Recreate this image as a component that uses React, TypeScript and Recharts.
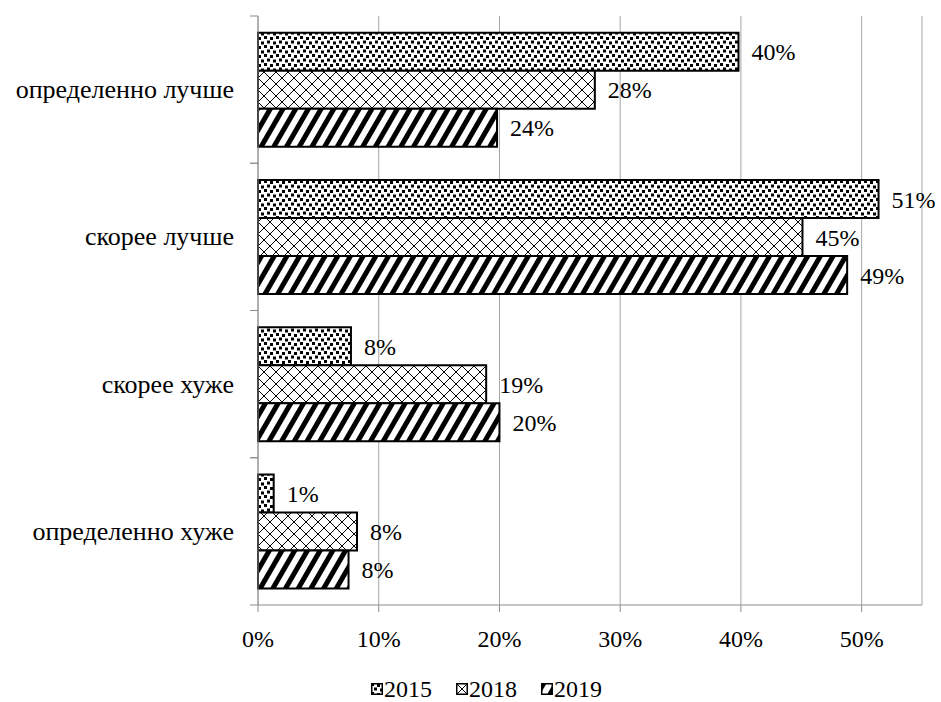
import React from 'react'
import { BarChart, Bar, XAxis, YAxis, CartesianGrid, LabelList } from 'recharts'

const categories = ['определенно лучше', 'скорее лучше', 'скорее хуже', 'определенно хуже']
const values2015 = [39.8, 51.4, 7.7, 1.3]
const values2018 = [27.9, 45.1, 18.9, 8.2]
const values2019 = [19.8, 48.8, 20.0, 7.5]
const labels2015 = ['40%', '51%', '8%', '1%']
const labels2018 = ['28%', '45%', '19%', '8%']
const labels2019 = ['24%', '49%', '20%', '8%']
const xTicks = [0, 10, 20, 30, 40, 50]
const years = ['2015', '2018', '2019']

const W = 941
const H = 702
const PLOT_TOP = 16
const PLOT_BOTTOM = 605
const Y_AXIS_W = 258
const FONT = 'Liberation Serif, Tinos, serif'
const axisColor = '#8c8c8c'
const gridColor = '#a6a6a6'

const chartData = categories.map((name, i) => ({
  name,
  v2015: values2015[i],
  v2018: values2018[i],
  v2019: values2019[i],
  l2015: labels2015[i],
  l2018: labels2018[i],
  l2019: labels2019[i],
}))

const fills = ['url(#pat-dots)', 'url(#pat-cross)', 'url(#pat-stripes)']

function Patterns() {
  return (
    <svg width={0} height={0} style={{ position: 'absolute' }}>
      <defs>
        <pattern id="pat-dots" patternUnits="userSpaceOnUse" width={12} height={9}>
          <rect width={12} height={9} fill="#fff" />
          <rect x={0} y={0} width={3} height={3} fill="#000" />
          <rect x={6} y={1} width={3} height={3} fill="#000" />
          <rect x={3} y={4.5} width={3} height={3} fill="#000" />
          <rect x={9} y={5.5} width={3} height={3} fill="#000" />
        </pattern>
        <pattern id="pat-cross" patternUnits="userSpaceOnUse" width={12} height={12}>
          <rect width={12} height={12} fill="#fff" />
          <path d="M0,0 L12,12 M12,0 L0,12" stroke="#000" strokeWidth={1} />
        </pattern>
        <pattern
          id="pat-stripes"
          patternUnits="userSpaceOnUse"
          width={11}
          height={11}
          patternTransform="rotate(30)"
        >
          <rect width={11} height={11} fill="#fff" />
          <rect x={0} y={0} width={5} height={11} fill="#000" />
        </pattern>
      </defs>
    </svg>
  )
}

function CategoryTick(props: any) {
  const { y, payload } = props
  const band = (PLOT_BOTTOM - PLOT_TOP) / categories.length
  return (
    <g>
      <line x1={Y_AXIS_W - 8} x2={Y_AXIS_W} y1={y - band / 2} y2={y - band / 2} stroke={axisColor} />
      <line x1={Y_AXIS_W - 8} x2={Y_AXIS_W} y1={y + band / 2} y2={y + band / 2} stroke={axisColor} />
      <text x={Y_AXIS_W - 24} y={y} dy="0.33em" textAnchor="end" fill="#000" fontSize={26} fontFamily={FONT}>
        {payload.value}
      </text>
    </g>
  )
}

function LegendRow() {
  return (
    <div
      style={{
        position: 'absolute',
        top: 675,
        left: 371,
        display: 'flex',
        fontFamily: FONT,
        fontSize: 24,
        lineHeight: '28px',
        color: '#000',
      }}
    >
      {years.map((y, i) => (
        <span key={y} style={{ display: 'inline-flex', alignItems: 'center', marginRight: 24 }}>
          <svg width={12} height={12} style={{ marginRight: 1 }}>
            <rect x={0.75} y={0.75} width={10.5} height={10.5} fill={fills[i]} stroke="#000" strokeWidth={1.5} />
          </svg>
          {y}
        </span>
      ))}
    </div>
  )
}

export default function App() {
  const labelStyle = { fill: '#000', fontSize: 24, fontFamily: FONT }
  return (
    <div style={{ position: 'absolute', left: 0, top: 0, width: W, height: H, background: '#fff' }}>
      <Patterns />
      <BarChart
        width={W}
        height={H}
        data={chartData}
        layout="vertical"
        margin={{ top: PLOT_TOP, right: 19, left: 0, bottom: H - PLOT_BOTTOM - 50 }}
        barCategoryGap="11.4%"
        barGap={0}
      >
        <CartesianGrid horizontal={false} stroke={gridColor} />
        <XAxis
          type="number"
          domain={[0, 55]}
          ticks={xTicks}
          tickFormatter={(v: number) => `${v}%`}
          height={50}
          axisLine={{ stroke: axisColor }}
          tickLine={{ stroke: axisColor }}
          tickSize={7}
          tickMargin={18}
          tick={{ fill: '#000', fontSize: 24, fontFamily: FONT }}
        />
        <YAxis
          type="category"
          dataKey="name"
          width={Y_AXIS_W}
          axisLine={{ stroke: axisColor }}
          tickLine={false}
          tick={<CategoryTick />}
          interval={0}
        />
        <Bar dataKey="v2015" fill={fills[0]} stroke="#000" strokeWidth={2} isAnimationActive={false}>
          <LabelList dataKey="l2015" position="right" offset={13} style={labelStyle} />
        </Bar>
        <Bar dataKey="v2018" fill={fills[1]} stroke="#000" strokeWidth={2} isAnimationActive={false}>
          <LabelList dataKey="l2018" position="right" offset={13} style={labelStyle} />
        </Bar>
        <Bar dataKey="v2019" fill={fills[2]} stroke="#000" strokeWidth={2} isAnimationActive={false}>
          <LabelList dataKey="l2019" position="right" offset={13} style={labelStyle} />
        </Bar>
      </BarChart>
      <LegendRow />
    </div>
  )
}
